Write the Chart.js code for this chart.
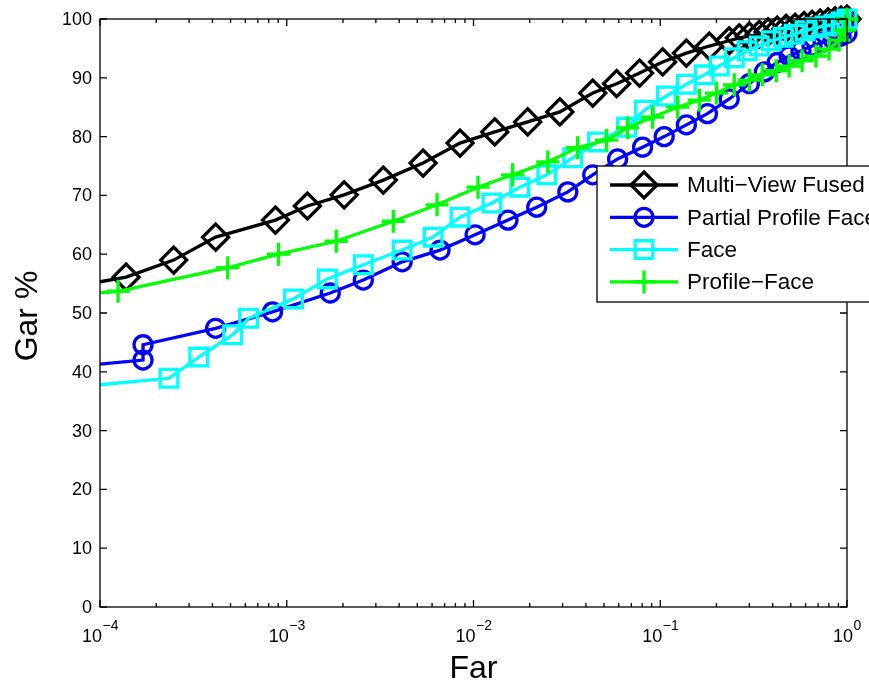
<!DOCTYPE html>
<html>
<head>
<meta charset="utf-8">
<title>Gar vs Far</title>
<script src="https://cdn.jsdelivr.net/npm/chart.js@4.4.1/dist/chart.umd.min.js"></script>
<style>
  html, body { margin: 0; padding: 0; background: #fff; }
  canvas { display: block; }
</style>
</head>
<body>
<canvas id="rocChart" width="869" height="683"></canvas>
<script>
'use strict';

//series: false accept rate (x) and genuine accept rate in % (y)
var seriesNames = ['Multi\u2212View Fused', 'Partial Profile Face', 'Face', 'Profile\u2212Face'];

var farFused = [5e-5, 1.38e-4, 2.48e-4, 4.16e-4, 8.7e-4, 1.29e-3, 2.03e-3, 3.29e-3, 5.37e-3, 8.47e-3,
  1.30e-2, 1.95e-2, 2.90e-2, 4.35e-2, 5.84e-2, 7.75e-2, 0.103, 0.138, 0.183, 0.234,
  0.265, 0.300, 0.339, 0.378, 0.423, 0.472, 0.527, 0.589, 0.650, 0.718, 0.792, 0.863, 0.929, 1.0];
var garFused = [53.6, 56.1, 59.0, 62.9, 65.8, 68.2, 70.1, 72.6, 75.5, 78.9,
  80.8, 82.5, 84.2, 87.4, 89.0, 90.8, 92.7, 94.2, 95.4, 96.3,
  96.8, 97.1, 97.4, 97.8, 98.1, 98.4, 98.6, 98.9, 99.1, 99.3, 99.5, 99.7, 99.8, 100];

var farPartial = [5e-5, 1.70e-4, 1.70e-4, 4.16e-4, 8.39e-4, 1.71e-3, 2.57e-3, 4.15e-3, 6.62e-3, 1.02e-2,
  1.53e-2, 2.18e-2, 3.20e-2, 4.35e-2, 5.91e-2, 8.04e-2, 0.105, 0.138, 0.179, 0.234,
  0.300, 0.361, 0.423, 0.490, 0.567, 0.650, 0.745, 0.841, 0.929, 1.0, 1.0];
var garPartial = [40.4, 42.0, 44.6, 47.4, 50.2, 53.4, 55.6, 58.7, 60.7, 63.3,
  65.8, 68.0, 70.6, 73.5, 76.2, 78.2, 80.0, 82.0, 83.9, 86.4,
  89.0, 91.0, 92.6, 93.7, 94.6, 95.4, 96.1, 96.6, 97.1, 97.6, 99.2];

var farFace = [5e-5, 2.34e-4, 3.38e-4, 5.13e-4, 6.25e-4, 1.087e-3, 1.65e-3, 2.57e-3, 4.15e-3, 6.08e-3,
  8.47e-3, 1.255e-2, 1.77e-2, 2.47e-2, 3.40e-2, 4.62e-2, 6.60e-2, 8.24e-2, 0.108, 0.138,
  0.172, 0.207, 0.249, 0.292, 0.339, 0.393, 0.455, 0.521, 0.597, 0.675, 0.763, 0.853, 0.929, 1.0];
var garFace = [36.9, 38.9, 42.5, 46.3, 49.1, 52.4, 55.8, 58.2, 60.7, 62.9,
  66.3, 68.7, 71.4, 73.5, 76.4, 79.1, 81.6, 84.5, 86.9, 88.9,
  90.5, 92.0, 93.4, 94.6, 95.4, 96.3, 96.9, 97.4, 98.0, 98.5, 98.8, 99.1, 99.5, 100];

var farProfile = [5e-5, 1.25e-4, 4.83e-4, 9.03e-4, 1.84e-3, 3.72e-3, 6.38e-3, 1.057e-2, 1.62e-2, 2.50e-2,
  3.61e-2, 5.16e-2, 6.68e-2, 9.09e-2, 0.124, 0.162, 0.200, 0.249, 0.300, 0.352,
  0.418, 0.490, 0.575, 0.682, 0.802, 0.906, 0.975, 1.0];
var garProfile = [52.5, 53.7, 57.7, 60.0, 62.2, 65.6, 68.4, 71.4, 73.5, 75.7,
  78.1, 79.4, 81.5, 83.3, 85.0, 86.2, 87.4, 88.8, 89.6, 90.5,
  91.2, 92.0, 92.9, 93.7, 94.9, 96.4, 98.1, 100];

//tick labels
var yTicks = [0, 10, 20, 30, 40, 50, 60, 70, 80, 90, 100];
var xTickExponents = [-4, -3, -2, -1, 0];
var xTitle = 'Far';
var yTitle = 'Gar %';

var FONT = '"Liberation Sans", Arial, Helvetica, sans-serif';

//zip far/gar arrays into {x, y} points
function toPoints(fars, gars) {
  var pts = [];
  for (let i = 0; i < fars.length; i++) {
    pts.push({ x: fars[i], y: gars[i] });
  }
  return pts;
}

//line + marker style per series (same order as seriesNames)
var styles = [
  { color: '#000000', marker: 'rectRot', radius: 13 },
  { color: '#0000ff', marker: 'circle', radius: 9 },
  { color: '#00ffff', marker: 'rect', radius: 12.5 },
  { color: '#00ff00', marker: 'cross', radius: 11.5 }
];
var seriesData = [
  toPoints(farFused, garFused),
  toPoints(farPartial, garPartial),
  toPoints(farFace, garFace),
  toPoints(farProfile, garProfile)
];

var datasets = [];
for (let i = 0; i < seriesNames.length; i++) {
  datasets.push({
    label: seriesNames[i],
    data: seriesData[i],
    borderColor: styles[i].color,
    borderWidth: 3.3,
    pointStyle: styles[i].marker,
    pointRadius: styles[i].radius,
    pointBorderColor: styles[i].color,
    pointBackgroundColor: 'rgba(0,0,0,0)',
    pointBorderWidth: 3.3,
    tension: 0,
    //later series sit on top, like plot() with hold on
    order: seriesNames.length - 1 - i,
    //markers may spill over the top/right frame but not the left
    clip: { left: 0, top: 18, right: 18, bottom: 0 }
  });
}

function drawMarker(ctx, style, x, y, r) {
  ctx.beginPath();
  if (style === 'rectRot') {
    ctx.moveTo(x, y - r);
    ctx.lineTo(x + r, y);
    ctx.lineTo(x, y + r);
    ctx.lineTo(x - r, y);
    ctx.closePath();
  } else if (style === 'circle') {
    ctx.arc(x, y, r, 0, Math.PI * 2);
  } else if (style === 'rect') {
    var s = r * Math.SQRT1_2;
    ctx.rect(x - s, y - s, 2 * s, 2 * s);
  } else if (style === 'cross') {
    ctx.moveTo(x, y - r);
    ctx.lineTo(x, y + r);
    ctx.moveTo(x - r, y);
    ctx.lineTo(x + r, y);
  }
  ctx.stroke();
}

//frame, inward ticks, labels and legend drawn over the chart area
var matlabAxes = {
  id: 'matlabAxes',
  afterDraw: function (chart) {
    var ctx = chart.ctx;
    var area = chart.chartArea;
    var xs = chart.scales.x;
    var ys = chart.scales.y;
    ctx.save();
    ctx.strokeStyle = '#000';
    ctx.fillStyle = '#000';
    ctx.lineWidth = 1.3;

    //box
    ctx.strokeRect(area.left, area.top, area.right - area.left, area.bottom - area.top);

    //y ticks both sides + labels
    ctx.font = '18px ' + FONT;
    ctx.textAlign = 'right';
    ctx.textBaseline = 'middle';
    for (let i = 0; i < yTicks.length; i++) {
      var py = ys.getPixelForValue(yTicks[i]);
      ctx.beginPath();
      ctx.moveTo(area.left, py);
      ctx.lineTo(area.left + 7, py);
      ctx.moveTo(area.right, py);
      ctx.lineTo(area.right - 7, py);
      ctx.stroke();
      ctx.fillText(String(yTicks[i]), area.left - 8, py + 1);
    }

    //x ticks (major per decade, minor 2..9) top and bottom
    for (let k = 0; k < xTickExponents.length; k++) {
      var e = xTickExponents[k];
      for (let m = 1; m <= 9; m++) {
        var v = m * Math.pow(10, e);
        if (v > xs.max * 1.0001) break;
        var px = xs.getPixelForValue(v);
        var len = m === 1 ? 7 : 4;
        ctx.beginPath();
        ctx.moveTo(px, area.bottom);
        ctx.lineTo(px, area.bottom - len);
        ctx.moveTo(px, area.top);
        ctx.lineTo(px, area.top + len);
        ctx.stroke();
      }
      //10^e label
      var base = '10';
      var sup = e === 0 ? '0' : '\u2212' + Math.abs(e);
      ctx.font = '18px ' + FONT;
      var wBase = ctx.measureText(base).width;
      ctx.font = '14px ' + FONT;
      var wSup = ctx.measureText(sup).width;
      var x0 = xs.getPixelForValue(Math.pow(10, e)) - (wBase + wSup) / 2;
      ctx.textAlign = 'left';
      ctx.textBaseline = 'alphabetic';
      ctx.font = '18px ' + FONT;
      ctx.fillText(base, x0, area.bottom + 35);
      ctx.font = '14px ' + FONT;
      ctx.fillText(sup, x0 + wBase + 0.5, area.bottom + 23);
    }

    //axis titles
    ctx.font = '32px ' + FONT;
    ctx.textAlign = 'center';
    ctx.textBaseline = 'alphabetic';
    ctx.fillText(xTitle, (area.left + area.right) / 2, area.bottom + 71);
    ctx.save();
    ctx.translate(37, (area.top + area.bottom) / 2 + 3);
    ctx.rotate(-Math.PI / 2);
    ctx.fillText(yTitle, 0, 0);
    ctx.restore();

    //legend box (runs past the right edge)
    var lx = 597, ly = 166, lh = 136;
    ctx.fillStyle = '#fff';
    ctx.fillRect(lx, ly, 320, lh);
    ctx.lineWidth = 1.3;
    ctx.strokeRect(lx, ly, 320, lh);
    ctx.font = '22.5px ' + FONT;
    ctx.textAlign = 'left';
    ctx.textBaseline = 'middle';
    for (let i = 0; i < seriesNames.length; i++) {
      var ry = ly + 19 + i * 32.3;
      ctx.strokeStyle = styles[i].color;
      ctx.lineWidth = 3.3;
      ctx.beginPath();
      ctx.moveTo(lx + 13, ry);
      ctx.lineTo(lx + 81, ry);
      ctx.stroke();
      drawMarker(ctx, styles[i].marker, lx + 47, ry, styles[i].radius);
      ctx.fillStyle = '#000';
      ctx.fillText(seriesNames[i], lx + 90, ry + 1);
    }
    ctx.restore();
  }
};

var ctx = document.getElementById('rocChart').getContext('2d');
//eslint-disable-next-line no-undef, no-unused-vars
var chart = new Chart(ctx, {
  type: 'line',
  data: { datasets: datasets },
  options: {
    responsive: false,
    animation: false,
    layout: { padding: { left: 100, right: 22, top: 19, bottom: 76 } },
    scales: {
      x: { type: 'logarithmic', min: 1e-4, max: 1, display: false },
      y: { type: 'linear', min: 0, max: 100, display: false }
    },
    plugins: {
      legend: { display: false },
      tooltip: { enabled: false }
    }
  },
  plugins: [matlabAxes]
});
</script>
</body>
</html>
